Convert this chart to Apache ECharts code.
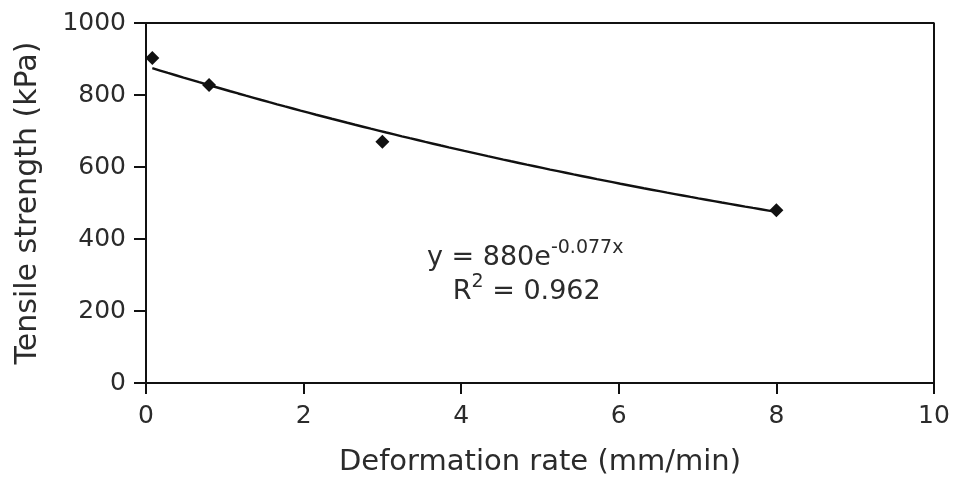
<!DOCTYPE html>
<html>
<head>
<meta charset="utf-8">
<title>Tensile strength vs deformation rate</title>
<script src="https://cdn.jsdelivr.net/npm/echarts@6/dist/echarts.min.js"></script>
<style>
  html, body { margin: 0; padding: 0; background: #ffffff; }
  #chart { width: 953px; height: 482px; }
</style>
</head>
<body>
<div id="chart"></div>
<script>
// Measured samples
const deformationRate = [0.08, 0.8, 3.0, 8.0];      // mm/min
const tensileStrength = [903, 828, 670, 480];       // kPa

// Exponential fit y = A * e^(k x), as printed on the chart
const fitA = 880;
const fitK = -0.077;
const fitR2 = 0.962;

// Axis ticks
const xTicks = [0, 2, 4, 6, 8, 10];
const yTicks = [0, 200, 400, 600, 800, 1000];

// Evaluate the fitted curve over the measured range
const fitLine = [];
const xStart = deformationRate[0];
const xEnd = deformationRate[deformationRate.length - 1];
const steps = 80;
for (let i = 0; i <= steps; i++) {
  const x = xStart + (xEnd - xStart) * i / steps;
  fitLine.push([x, fitA * Math.exp(fitK * x)]);
}

const points = deformationRate.map((x, i) => [x, tensileStrength[i]]);

const FONT = 'DejaVu Sans';
const TEXT = '#2b2b2b';
const INK = '#111111';

const chart = echarts.init(document.getElementById('chart'), null, { renderer: 'canvas' });

chart.setOption({
  backgroundColor: '#ffffff',
  animation: false,
  textStyle: { fontFamily: FONT },
  grid: { left: 146, right: 19, top: 23, bottom: 98, show: false },
  xAxis: {
    type: 'value',
    min: xTicks[0],
    max: xTicks[xTicks.length - 1],
    interval: xTicks[1] - xTicks[0],
    name: 'Deformation rate (mm/min)',
    nameLocation: 'middle',
    nameGap: 65,
    nameTextStyle: { fontFamily: FONT, fontSize: 29, color: TEXT },
    axisLine: { show: true, onZero: false, lineStyle: { color: INK, width: 2 } },
    axisTick: { show: true, inside: false, length: 11, lineStyle: { color: INK, width: 2 } },
    axisLabel: { margin: 21, fontFamily: FONT, fontSize: 25, color: TEXT, formatter: v => String(v) },
    splitLine: { show: false }
  },
  yAxis: {
    type: 'value',
    min: yTicks[0],
    max: yTicks[yTicks.length - 1],
    interval: yTicks[1] - yTicks[0],
    name: 'Tensile strength (kPa)',
    nameLocation: 'middle',
    nameRotate: 90,
    nameGap: 103,
    nameTextStyle: { fontFamily: FONT, fontSize: 30, color: TEXT },
    axisLine: { show: true, onZero: false, lineStyle: { color: INK, width: 2 } },
    axisTick: { show: true, inside: false, length: 12, lineStyle: { color: INK, width: 2 } },
    axisLabel: { margin: 20, fontFamily: FONT, fontSize: 25, color: TEXT, formatter: v => String(v) },
    splitLine: { show: false }
  },
  // Fit equation and coefficient of determination
  graphic: [
    {
      type: 'text',
      left: 427,
      top: 239,
      style: {
        text: '{m|y = ' + fitA + 'e}{s|' + fitK.toFixed(3) + 'x}\n{m|   R}{s|2}{m| = ' + fitR2.toFixed(3) + '}',
        fill: TEXT,
        rich: {
          m: { fontFamily: FONT, fontSize: 27, fill: TEXT, lineHeight: 34 },
          s: { fontFamily: FONT, fontSize: 19, fill: TEXT, lineHeight: 34, padding: [0, 0, 18, 0] }
        }
      }
    }
  ],
  series: [
    {
      name: 'Fit',
      type: 'line',
      data: fitLine,
      showSymbol: false,
      symbol: 'none',
      smooth: false,
      lineStyle: { color: INK, width: 2.4 },
      z: 2
    },
    {
      name: 'Measured',
      type: 'scatter',
      data: points,
      symbol: 'diamond',
      symbolSize: 14,
      itemStyle: { color: INK, opacity: 1 },
      z: 3
    },
    {
      // top and right edges of the plot box
      name: 'frame',
      type: 'line',
      data: [[xTicks[0], yTicks[yTicks.length - 1]], [xTicks[xTicks.length - 1], yTicks[yTicks.length - 1]], [xTicks[xTicks.length - 1], yTicks[0]]],
      symbol: 'none',
      lineStyle: { color: INK, width: 2 },
      silent: true,
      z: 1
    }
  ]
});
</script>
</body>
</html>
